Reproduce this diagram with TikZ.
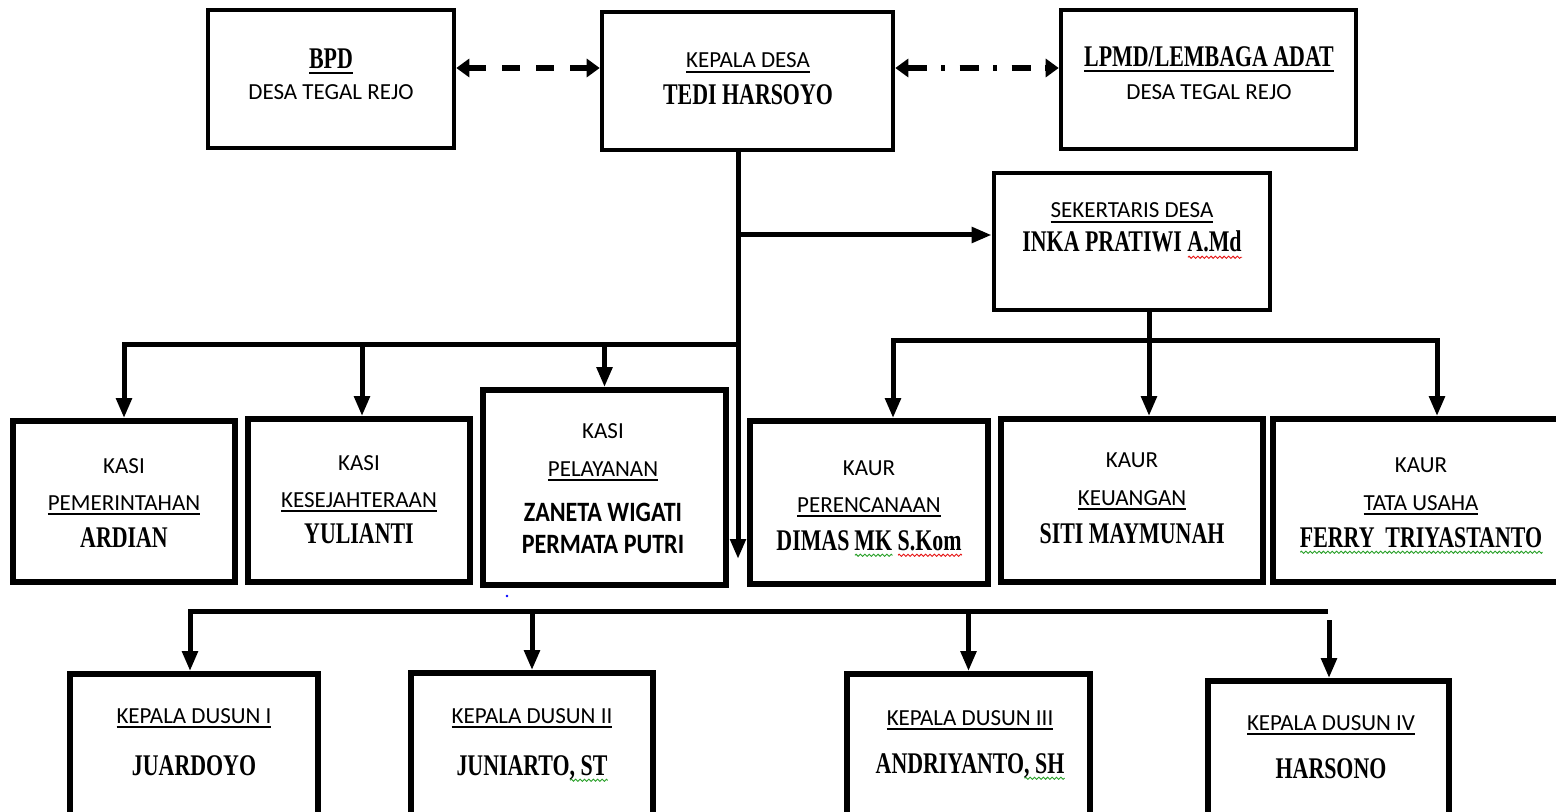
\documentclass[tikz,border=0pt]{standalone}
\usepackage{fontspec}
\setmainfont{Carlito}
\newfontfamily\namefont{Liberation Serif}[FakeStretch=0.73]
\newfontfamily\sansbold{Carlito}[FakeStretch=0.86]
\usetikzlibrary{arrows.meta,decorations.pathmorphing}
\newlength\sqw
\newcommand\ulx[1]{\setbox0\hbox{#1}\rlap{\raisebox{-2.4pt}{\rule{\wd0}{0.9pt}}}\box0}
\newcommand\sqg[2]{\setbox2\hbox{#2}\sqw=\wd2\rlap{\raisebox{-3.4pt}{\tikz\draw[#1,line width=0.45pt,decorate,decoration={zigzag,segment length=2.2pt,amplitude=0.55pt}] (0pt,0pt) -- (\sqw,0pt);}}\box2}
\newcommand\bx[6]{\node[#2, minimum width={(#5-#3)*0.5pt}, minimum height={(#6-#4)*0.5pt}] (#1) at ({(#3+#5)/2},{(#4+#6)/2}) {};}
\definecolor{sqgreen}{RGB}{40,160,40}
\definecolor{sqred}{RGB}{230,20,20}
\begin{document}
\begin{tikzpicture}[x=0.5pt,y=-0.5pt,
  box/.style={draw, line width=2.3pt, rectangle, inner sep=0pt},
  boxb/.style={box, line width=2.8pt},
  conn/.style={line width=2.5pt},
  arr/.style={conn, -{Triangle[length=10pt,width=7.5pt]}},
  darr/.style={conn, {Triangle[length=10pt,width=7.5pt]}-{Triangle[length=10pt,width=7.5pt]}},
  toparr/.style={line width=3pt, {Triangle[length=6.5pt,width=9pt]}-{Triangle[length=6.5pt,width=9pt]}},
  lbl/.style={anchor=base, inner sep=0pt, font=\fontsize{11.5}{13}\selectfont},
  nm/.style={anchor=base, inner sep=0pt, font=\namefont\bfseries\fontsize{15}{17}\selectfont},
  sb/.style={anchor=base, inner sep=0pt, font=\sansbold\bfseries\fontsize{14}{16}\selectfont},
]
\useasboundingbox (0,0) rectangle (1556,812);
\fill[white] (0,0) rectangle (1556,812);
\clip (0,0) rectangle (1556,812);

% boxes
\bx{bpd}{box}{208}{10}{454}{148}
\bx{kades}{box}{602}{12}{893}{150}
\bx{lpmd}{box}{1061}{10}{1356}{149}
\bx{sekdes}{box}{994}{173}{1270}{310}
\bx{pem}{boxb}{13}{421}{235}{582}
\bx{kes}{boxb}{248}{419}{470}{582}
\bx{pel}{boxb}{483}{390}{726}{585}
\bx{per}{boxb}{750}{421}{988}{584}
\bx{keu}{boxb}{1001}{419}{1263}{582}
\bx{tu}{boxb}{1273}{419}{1570}{582}
\bx{d1}{boxb}{70}{674}{318}{830}
\bx{d2}{boxb}{411}{673}{653}{830}
\bx{d3}{boxb}{847}{674}{1090}{830}
\bx{d4}{boxb}{1208}{681}{1449}{830}

% texts
\node[nm]  (bpd-a) at (331,69) {\ulx{BPD}};
\node[lbl] (bpd-b) at (331,100) {DESA TEGAL REJO};
\node[lbl] (kd-a) at (748,68) {\ulx{KEPALA DESA}};
\node[nm]  (kd-b) at (748,105) {TEDI HARSOYO};
\node[nm]  (lp-a) at (1209,67) {\ulx{LPMD/LEMBAGA ADAT}};
\node[lbl] (lp-b) at (1209,100) {DESA TEGAL REJO};
\node[lbl] (sk-a) at (1132,218) {\ulx{SEKERTARIS DESA}};
\node[nm]  (sk-b) at (1132,252) {INKA PRATIWI \sqg{sqred}{A.Md}};

\node[lbl] (pem-a) at (124,473) {KASI};
\node[lbl] (pem-b) at (124,510) {\ulx{PEMERINTAHAN}};
\node[nm]  (pem-c) at (124,547) {ARDIAN};
\node[lbl] (kes-a) at (359,470) {KASI};
\node[lbl] (kes-b) at (359,507) {\ulx{KESEJAHTERAAN}};
\node[nm]  (kes-c) at (359,543) {YULIANTI};
\node[lbl] (pel-a) at (603,438) {KASI};
\node[lbl] (pel-b) at (603,476) {\ulx{PELAYANAN}};
\node[sb]  (pel-c) at (603,521) {ZANETA WIGATI};
\node[sb]  (pel-d) at (603,553) {PERMATA PUTRI};

\node[lbl] (per-a) at (869,475) {KAUR};
\node[lbl] (per-b) at (869,512) {\ulx{PERENCANAAN}};
\node[nm]  (per-c) at (869,550) {DIMAS\,\sqg{sqgreen}{MK}\ \sqg{sqred}{S.Kom}};
\node[lbl] (keu-a) at (1132,467) {KAUR};
\node[lbl] (keu-b) at (1132,505) {\ulx{KEUANGAN}};
\node[nm]  (keu-c) at (1132,543) {SITI MAYMUNAH};
\node[lbl] (tu-a) at (1421,472) {KAUR};
\node[lbl] (tu-b) at (1421,510) {\ulx{TATA USAHA}};
\node[nm]  (tu-c) at (1421,547) {\sqg{sqgreen}{FERRY\ \ TRIYASTANTO}};

\node[lbl] (d1-a) at (194,723) {\ulx{KEPALA DUSUN I}};
\node[nm]  (d1-b) at (194,775) {JUARDOYO};
\node[lbl] (d2-a) at (532,723) {\ulx{KEPALA DUSUN II}};
\node[nm]  (d2-b) at (532,775) {JUNIARTO\sqg{sqgreen}{, ST}};
\node[lbl] (d3-a) at (970,725) {\ulx{KEPALA DUSUN III}};
\node[nm]  (d3-b) at (970,773) {ANDRIYANTO\sqg{sqgreen}{, SH}};
\node[lbl] (d4-a) at (1331,730) {\ulx{KEPALA DUSUN IV}};
\node[nm]  (d4-b) at (1331,778) {HARSONO};

% coordinates
\coordinate (ya) at (0,68);
\coordinate (yb) at (0,235);
\coordinate (tx) at (738,0);
\coordinate (tend) at (738,559);
\coordinate (kb) at (738,345);
\coordinate (kk) at (362,345);
\coordinate (sx) at (1149,341);
\coordinate (sL) at (893,341);
\coordinate (sR) at (1437,341);
\coordinate (bL) at (190,611);
\coordinate (bR) at (1328,611);
\coordinate (d4s) at (1329,620);

% connectors
\draw[toparr, dash pattern=on 9pt off 8pt] (bpd.east |- ya) -- (kades.west |- ya);
\draw[toparr, dash pattern=on 9.5pt off 7.25pt on 2pt off 7.25pt] (kades.east |- ya) -- (lpmd.west |- ya);
\draw[arr] (kades.south -| tx) -- (tend);
\draw[arr] (tx |- yb) -- (sekdes.west |- yb);
\draw[arr] (kb) -| (pem.north);
\draw[arr] (kk) -- (kes.north -| kk);
\draw[arr] (pel.north |- kb) -- (pel.north);
\draw[arr] (sekdes.south -| sx) -- (keu.north -| sx);
\draw[darr] (per.north -| sL) -- (sL) -- (sR) -- (tu.north -| sR);
\draw[arr] (bR) -- (bL) -- (d1.north -| bL);
\draw[arr] (d2.north |- bL) -- (d2.north);
\draw[arr] (d3.north |- bL) -- (d3.north);
\draw[arr] (d4s) -- (d4.north -| d4s);
\fill[blue] (507,596) circle (0.7pt);
\end{tikzpicture}
\end{document}
